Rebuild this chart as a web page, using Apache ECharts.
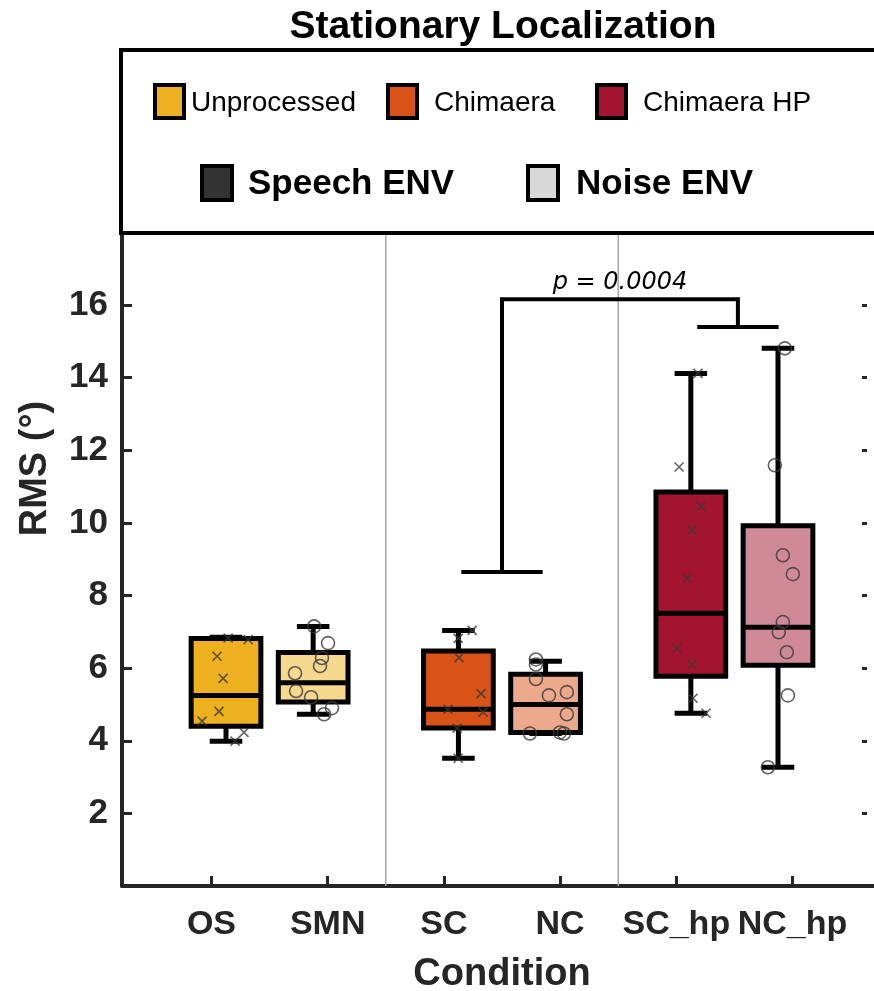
<!DOCTYPE html>
<html>
<head>
<meta charset="utf-8">
<script src="https://cdn.jsdelivr.net/npm/echarts@6/dist/echarts.min.js"></script>
<style>
  html, body { margin: 0; padding: 0; background: #fff; }
  #chart { width: 874px; height: 991px; }
</style>
</head>
<body>
<div id="chart"></div>
<script>
// categories and tick positions
const categories = ["OS", "SMN", "SC", "NC", "SC_hp", "NC_hp"];
const tickPos = [1, 2, 3, 4, 5, 6];
const separators = [2.5, 4.5];

// box positions and stats: [low whisker, Q1, median, Q3, high whisker]
const boxPos = [1.125, 1.875, 3.125, 3.875, 5.125, 5.875];
const boxStats = [
  [3.99, 4.40, 5.25, 6.82, 6.85],
  [4.73, 5.07, 5.60, 6.43, 7.15],
  [3.52, 4.35, 4.87, 6.47, 7.04],
  [4.20, 4.23, 5.00, 5.83, 6.19],
  [4.76, 5.78, 7.51, 10.85, 14.12],
  [3.27, 6.08, 7.13, 9.92, 14.81],
];
const boxColors = ["#EDB120", "#F6D88F", "#D95319", "#ECA98C", "#A2142F", "#D08997"];

// individual points [x, RMS]
const osPts = [[1.143, 6.83], [1.315, 6.79], [1.048, 6.33], [1.100, 5.72], [1.065, 4.81], [0.919, 4.54], [1.280, 4.23], [1.203, 3.99]];
const smnPts = [[1.883, 7.15], [2.003, 6.69], [1.951, 6.28], [1.934, 6.06], [1.719, 5.86], [1.728, 5.37], [1.857, 5.20], [2.037, 4.90], [1.969, 4.73]];
const scPts = [[3.243, 7.04], [3.123, 6.82], [3.131, 6.29], [3.320, 5.30], [3.035, 4.87], [3.337, 4.79], [3.114, 4.35], [3.123, 3.52]];
const ncPts = [[3.792, 6.24], [3.792, 6.10], [3.792, 5.70], [3.904, 5.25], [4.058, 5.34], [4.058, 4.73], [3.740, 4.20], [3.998, 4.23], [4.033, 4.20]];
const schpPts = [[5.187, 14.12], [5.024, 11.54], [5.213, 10.46], [5.136, 9.80], [5.093, 8.48], [5.007, 6.55], [5.136, 6.10], [5.144, 5.17], [5.256, 4.76]];
const nchpPts = [[5.934, 14.81], [5.848, 11.59], [5.917, 9.11], [6.003, 8.59], [5.917, 7.27], [5.882, 6.99], [5.951, 6.44], [5.960, 5.25], [5.788, 3.27]];

// significance bracket
const sigX = [3.5, 5.53];
const sigLow = [8.65, 15.4];
const sigTop = 16.16;
const sigLabel = "p = 0.0004";

// legend
const groupNames = ["Unprocessed", "Chimaera", "Chimaera HP"];
const groupColors = ["#EDB120", "#D95319", "#A2142F"];
const envNames = ["Speech ENV", "Noise ENV"];
const envColors = ["#333333", "#D9D9D9"];

const boxWidth = 0.6;
const capWidth = 0.28;
const sigCap = 0.35;
const FONT = "Liberation Sans, Arial, sans-serif";

const chart = echarts.init(document.getElementById("chart"));

const renderBox = (params, api) => {
  const x = api.value(0);
  const lo = api.coord([x, api.value(1)]);
  const q1 = api.coord([x, api.value(2)]);
  const med = api.coord([x, api.value(3)]);
  const q3 = api.coord([x, api.value(4)]);
  const hi = api.coord([x, api.value(5)]);
  const w = api.size([boxWidth, 0])[0];
  const cw = api.size([capWidth, 0])[0];
  const cx = lo[0];
  const st = { stroke: "#000", lineWidth: 5 };
  return {
    type: "group",
    children: [
      { type: "line", shape: { x1: cx, y1: q3[1], x2: cx, y2: hi[1] }, style: st },
      { type: "line", shape: { x1: cx, y1: lo[1], x2: cx, y2: q1[1] }, style: st },
      { type: "line", shape: { x1: cx - cw / 2, y1: hi[1], x2: cx + cw / 2, y2: hi[1] }, style: st },
      { type: "line", shape: { x1: cx - cw / 2, y1: lo[1], x2: cx + cw / 2, y2: lo[1] }, style: st },
      {
        type: "rect",
        shape: { x: cx - w / 2, y: q3[1], width: w, height: q1[1] - q3[1] },
        style: { fill: boxColors[params.dataIndex], stroke: "#000", lineWidth: 5 },
      },
      { type: "line", shape: { x1: cx - w / 2, y1: med[1], x2: cx + w / 2, y2: med[1] }, style: st },
    ],
  };
};

const renderSep = (params, api) => {
  const p = api.coord([api.value(0), 0]);
  const cs = params.coordSys;
  return {
    type: "line",
    shape: { x1: p[0], y1: cs.y, x2: p[0], y2: cs.y + cs.height },
    style: { stroke: "#a6a6a6", lineWidth: 1.5 },
  };
};

const renderSig = (params, api) => {
  const a = api.coord([sigX[0], sigLow[0]]);
  const b = api.coord([sigX[1], sigLow[1]]);
  const ta = api.coord([sigX[0], sigTop]);
  const tb = api.coord([sigX[1], sigTop]);
  const c = api.size([sigCap, 0])[0];
  const st = { stroke: "#000", lineWidth: 4 };
  return {
    type: "group",
    children: [
      { type: "line", shape: { x1: a[0] - c, y1: a[1], x2: a[0] + c, y2: a[1] }, style: st },
      { type: "line", shape: { x1: b[0] - c, y1: b[1], x2: b[0] + c, y2: b[1] }, style: st },
      {
        type: "polyline",
        shape: { points: [a, ta, tb, b] },
        style: { stroke: "#000", lineWidth: 4, fill: null },
      },
      {
        type: "text",
        x: (ta[0] + tb[0]) / 2,
        y: ta[1] - 5,
        style: {
          text: sigLabel,
          fill: "#000",
          font: "italic 24px 'DejaVu Sans', sans-serif",
          align: "center",
          verticalAlign: "bottom",
        },
      },
    ],
  };
};

// legend drawn as graphic elements, on top of the axes
const legendEls = [
  {
    type: "rect",
    z: 100,
    shape: { x: 121, y: 50, width: 780, height: 183 },
    style: { fill: "#fff", stroke: "#000", lineWidth: 4 },
  },
];
const row1Box = [155, 388, 597];
const row1Txt = [191, 434, 643];
groupNames.forEach((n, i) => {
  legendEls.push({
    type: "rect",
    z: 101,
    shape: { x: row1Box[i], y: 85, width: 29, height: 33 },
    style: { fill: groupColors[i], stroke: "#000", lineWidth: 4 },
  });
  legendEls.push({
    type: "text",
    z: 101,
    x: row1Txt[i],
    y: 103,
    style: { text: n, fill: "#000", font: "28px " + FONT, verticalAlign: "middle" },
  });
});
const row2Box = [202, 528];
const row2Txt = [248, 576];
envNames.forEach((n, i) => {
  legendEls.push({
    type: "rect",
    z: 101,
    shape: { x: row2Box[i], y: 166, width: 30, height: 34 },
    style: { fill: envColors[i], stroke: "#000", lineWidth: 4 },
  });
  legendEls.push({
    type: "text",
    z: 101,
    x: row2Txt[i],
    y: 184,
    style: { text: n, fill: "#000", font: "bold 35px " + FONT, verticalAlign: "middle" },
  });
});

const option = {
  backgroundColor: "#fff",
  animation: false,
  grid: { left: 122, top: 51, right: -8, bottom: 105, outerBoundsMode: "none", containLabel: false },
  xAxis: {
    type: "value",
    min: 0.23,
    max: 6.77,
    name: "Condition",
    nameLocation: "middle",
    nameGap: 70,
    nameTextStyle: { color: "#262626", fontSize: 38, fontWeight: "bold", fontFamily: FONT },
    axisLine: { lineStyle: { color: "#262626", width: 4 } },
    axisTick: { inside: true, length: 10, lineStyle: { width: 3, color: "#262626" }, customValues: tickPos },
    axisLabel: {
      customValues: tickPos,
      formatter: (v) => categories[tickPos.indexOf(Math.round(v))] || "",
      color: "#262626",
      fontSize: 34,
      fontWeight: "bold",
      fontFamily: FONT,
      margin: 22,
    },
    splitLine: { show: false },
  },
  yAxis: [
    {
      type: "value",
      min: 0,
      max: 23,
      interval: 2,
      name: "RMS (°)",
      nameLocation: "middle",
      nameGap: 67,
      nameTextStyle: { color: "#262626", fontSize: 38, fontWeight: "bold", fontFamily: FONT },
      axisLine: { lineStyle: { color: "#262626", width: 4 } },
      axisTick: { inside: true, length: 10, lineStyle: { width: 3, color: "#262626" } },
      axisLabel: {
        formatter: (v) => (v >= 2 && v <= 16 ? String(v) : ""),
        color: "#262626",
        fontSize: 35,
        fontWeight: "bold",
        fontFamily: FONT,
        margin: 14,
      },
      splitLine: { show: false },
    },
    {
      type: "value",
      position: "right",
      offset: -15,
      min: 0,
      max: 23,
      interval: 2,
      axisLine: { show: false },
      axisTick: { inside: true, length: 5, lineStyle: { width: 3, color: "#262626" } },
      axisLabel: { show: false },
      splitLine: { show: false },
    },
  ],
  graphic: [
    {
      type: "text",
      x: 503,
      y: 27,
      z: 100,
      style: {
        text: "Stationary Localization",
        fill: "#000",
        font: "bold 39px " + FONT,
        align: "center",
        verticalAlign: "middle",
      },
    },
    { type: "group", z: 100, children: legendEls },
  ],
  series: [
    {
      type: "custom",
      renderItem: renderSep,
      data: separators.map((s) => [s]),
      encode: { x: 0 },
      z: 1,
      silent: true,
    },
    {
      type: "custom",
      renderItem: renderBox,
      data: boxStats.map((s, i) => [boxPos[i], ...s]),
      encode: { x: 0, y: [1, 2, 3, 4, 5] },
      z: 2,
      silent: true,
    },
    {
      type: "custom",
      renderItem: renderSig,
      data: [[sigX[0], sigTop]],
      encode: { x: 0, y: 1 },
      z: 2,
      silent: true,
    },
    {
      name: "Speech ENV",
      type: "scatter",
      data: [...osPts, ...scPts, ...schpPts],
      symbol: "path://M0,0L10,10M10,0L0,10",
      symbolSize: 9,
      itemStyle: { color: "transparent", borderColor: "#3a3a3a", borderWidth: 1.6 },
      z: 3,
      silent: true,
    },
    {
      name: "Noise ENV",
      type: "scatter",
      data: [...smnPts, ...ncPts, ...nchpPts],
      symbol: "circle",
      symbolSize: 13,
      itemStyle: { color: "transparent", borderColor: "#3a3a3a", borderWidth: 1.6 },
      z: 3,
      silent: true,
    },
  ],
};
chart.setOption(option);
</script>
</body>
</html>
